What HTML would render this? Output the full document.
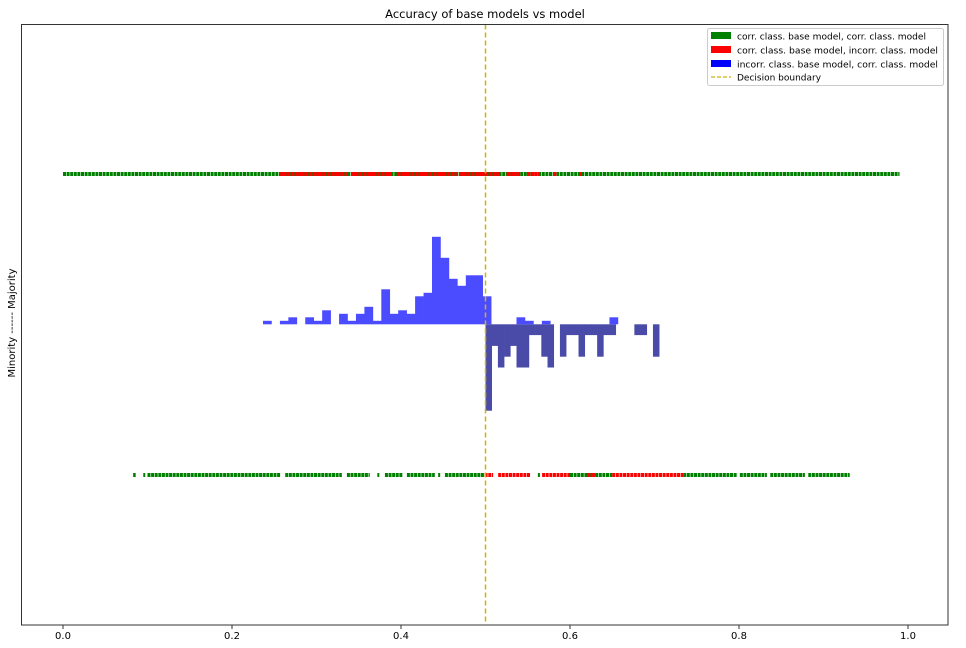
<!DOCTYPE html>
<html><head><meta charset="utf-8"><style>
body{margin:0;background:#fff;width:966px;height:643px;overflow:hidden}
svg{font-family:"DejaVu Sans","Liberation Sans",sans-serif}
</style></head><body>
<svg id="c" width="966" height="643"></svg>
<script>
// ---- data ----
const xTicks=[0,0.2,0.4,0.6,0.8,1.0];
const xTickLabels=["0.0","0.2","0.4","0.6","0.8","1.0"];
// blue histogram (upward): bins start 0.2367, width 0.01
const blueStart=0.2367, blueWidth=0.01;
const blueCounts=[1,0,1,2,0,2,1,4,0,3,1,3,5,1,10,3,4,3,8,9,25,19,13,11,14,14,8,0,0,0,2,1,0,1,0,0,0,0,0,0,0,2];
// dark blue histogram (downward): bins start 0.5, width 0.00734
const darkStart=0.5, darkWidth=0.00734;
const darkCounts=[8,2,4,3,2,4,4,1,1,3,4,0,3,1,1,3,1,1,3,1,1,0,0,0,1,1,0,3];
// top strip (majority) segments [start,end]
const topGreen=[[0,0.99]];
const topRed=[[0.257,0.337],[0.342,0.389],[0.395,0.466],[0.47,0.517],[0.525,0.541],[0.549,0.564],[0.58,0.585],[0.611,0.614]];
// bottom strip (minority) segments
const botGreen=[[0.083,0.086],[0.095,0.097],[0.10,0.257],[0.263,0.330],[0.336,0.363],[0.372,0.374],[0.381,0.402],[0.407,0.440],[0.444,0.446],[0.452,0.499],[0.562,0.564],[0.60,0.65],[0.734,0.798],[0.801,0.833],[0.837,0.878],[0.882,0.931]];
const botRed=[[0.499,0.509],[0.515,0.553],[0.567,0.60],[0.62,0.63],[0.65,0.734]];
// ---- axes ----
const L=21.5,R=948,T=24.5,B=625;
const X=v=>63+845*v;
const base=324.3, blueUnit=3.5, darkUnit=10.8;
const NS="http://www.w3.org/2000/svg";
const svg=document.getElementById('c');
function mk(t,a,p){const e=document.createElementNS(NS,t);for(const k in a)e.setAttribute(k,a[k]);(p||svg).appendChild(e);return e;}
let t=mk('text',{x:485,y:18,'text-anchor':'middle','font-size':11.5,fill:'#000'});t.textContent='Accuracy of base models vs model';


t=mk('text',{x:0,y:0,transform:'translate(15,323) rotate(-90)','text-anchor':'middle','font-size':10,fill:'#000'});t.textContent='Minority ------ Majority';


// strips
function strip(segs,y,col,name){segs.forEach(s=>{const e=mk('line',{x1:X(s[0]),x2:Math.max(X(s[1]),X(s[0])+2),y1:y,y2:y,stroke:col,'stroke-width':4,'stroke-dasharray':'3 0.6'});

});}
strip(topGreen,174,'#008000','top-green-points');
strip(topRed,174,'#ff0000','top-red-points');
strip(botGreen,475,'#008000','bottom-green-points');
strip(botRed,475,'#ff0000','bottom-red-points');
// histograms
darkCounts.forEach((c,i)=>{if(!c)return;const e=mk('rect',{x:X(darkStart+i*darkWidth),y:base,width:845*darkWidth+0.3,height:c*darkUnit,fill:'#4a4aa8'});

});
blueCounts.forEach((c,i)=>{if(!c)return;const e=mk('rect',{x:X(blueStart+i*blueWidth),y:base-c*blueUnit,width:845*blueWidth+0.3,height:c*blueUnit,fill:'#4b4bff'});

});
// decision boundary
let db=mk('line',{x1:X(0.5),x2:X(0.5),y1:T,y2:B,stroke:'#c9b410','stroke-width':1.5,'stroke-dasharray':'5 3'});


// frame
let fr=mk('rect',{x:L,y:T,width:R-L,height:B-T,fill:'none',stroke:'#333','stroke-width':1});


xTicks.forEach((v,i)=>{mk('line',{x1:X(v),x2:X(v),y1:B,y2:B+4,stroke:'#333'});
const e=mk('text',{x:X(v),y:639,'text-anchor':'middle','font-size':10,fill:'#000'});e.textContent=xTickLabels[i];

});
// legend
const lg=mk('g',{});


mk('rect',{x:707.5,y:28.5,width:236,height:57,rx:2,fill:'#fff',stroke:'#ccc'},lg);
const items=[['#008000','corr. class. base model, corr. class. model'],['#ff0000','corr. class. base model, incorr. class. model'],['#0000ff','incorr. class. base model, corr. class. model']];
items.forEach((it,i)=>{const y=36+i*14;mk('rect',{x:711,y:y-4,width:20,height:7,fill:it[0]},lg);
const e=mk('text',{x:737,y:y+3.5,'font-size':9,textLength:i==1?201:i==0?189:201,lengthAdjust:'spacingAndGlyphs',fill:'#000'},lg);e.textContent=it[1];

});
mk('line',{x1:711,x2:731,y1:77,y2:77,stroke:'#c9b410','stroke-width':1.3,'stroke-dasharray':'4 2'},lg);
const e2=mk('text',{x:737,y:80.5,'font-size':9,fill:'#000'},lg);e2.textContent='Decision boundary';


</script>
</body></html>
